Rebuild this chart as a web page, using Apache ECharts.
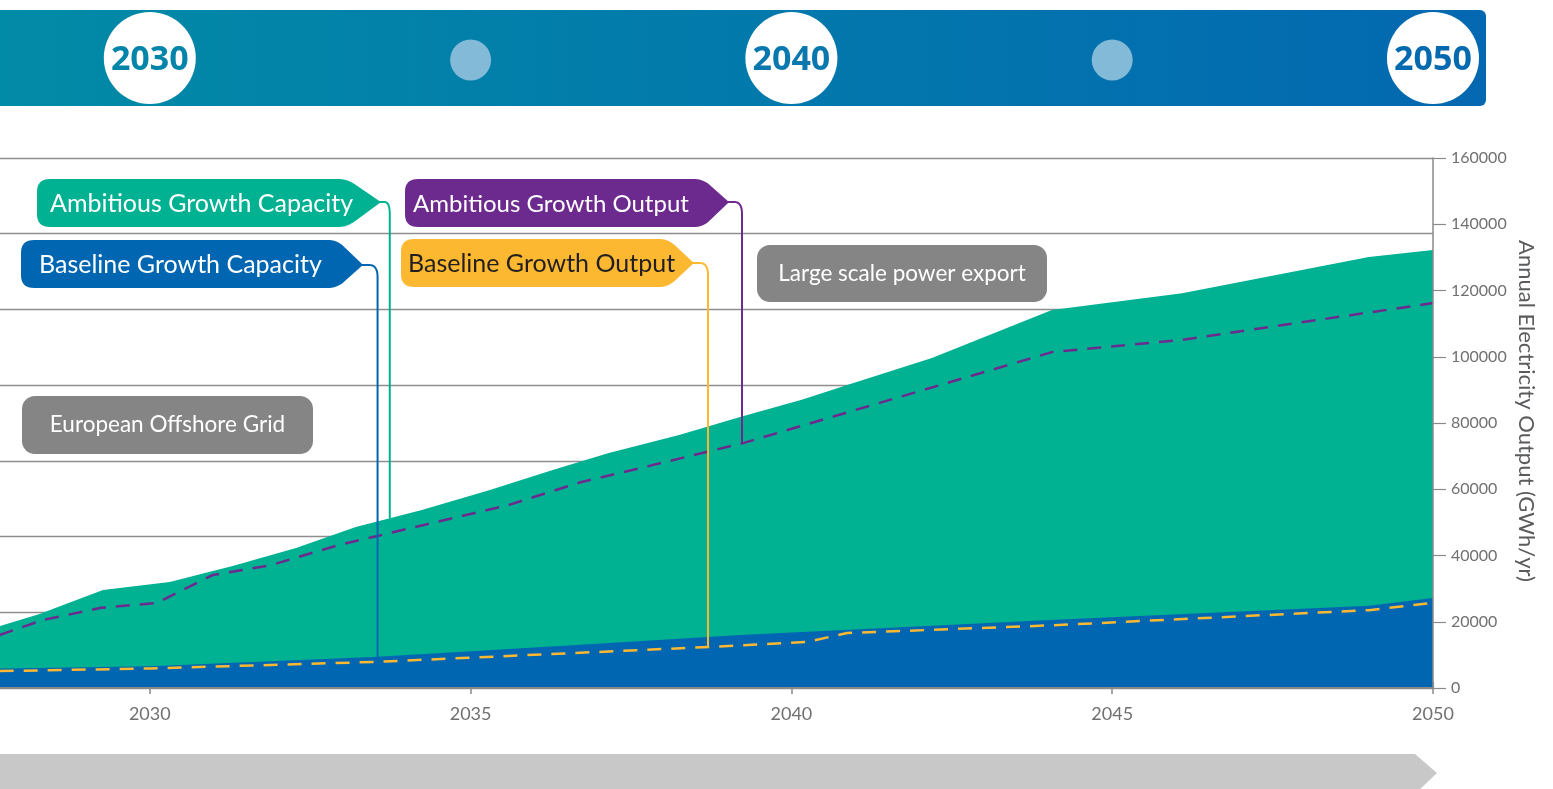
<!DOCTYPE html>
<html>
<head>
<meta charset="utf-8">
<script src="https://cdn.jsdelivr.net/npm/echarts/dist/echarts.min.js"></script>
<style>html,body{margin:0;padding:0;background:#fff;overflow:hidden}#c{width:1553px;height:789px}</style>
</head>
<body>
<div id="c"></div>
<script>
// ---- data ----
const xTickYears = [2025, 2030, 2035, 2040, 2045, 2050];
const outputTicks = [0, 20000, 40000, 60000, 80000, 100000, 120000, 140000, 160000];

const ambitiousCapacityYears  = [2027.66, 2028.27, 2029.27, 2030.31, 2031.29, 2032.28, 2033.21, 2034.24, 2035.30, 2036.28, 2037.14, 2038.25, 2039.20, 2040.16, 2040.87, 2042.19, 2044.06, 2046.09, 2049.00, 2050.00];
const ambitiousCapacityValues = [18700, 22300, 29600, 32000, 36800, 42300, 48600, 53700, 59800, 65800, 70900, 76400, 81800, 87000, 91500, 99600, 114100, 119200, 130100, 132200];

const baselineCapacityYears  = [2027.66, 2030.00, 2033.55, 2036.39, 2039.20, 2044.03, 2049.00, 2050.00];
const baselineCapacityValues = [5900, 6600, 9400, 12700, 16000, 20500, 24800, 27200];

const ambitiousOutputYears  = [2027.66, 2028.33, 2029.24, 2030.11, 2030.98, 2031.89, 2032.95, 2033.55, 2034.46, 2035.60, 2036.73, 2037.71, 2039.26, 2044.06, 2046.09, 2050.00];
const ambitiousOutputValues = [16000, 20500, 24200, 25700, 34100, 37100, 43200, 45900, 50100, 55300, 62200, 66700, 74000, 101400, 105100, 116200];

const baselineOutputYears  = [2027.66, 2030.00, 2033.55, 2038.73, 2040.24, 2040.87, 2044.03, 2049.00, 2050.00];
const baselineOutputValues = [5100, 5900, 7900, 12400, 13900, 16600, 18900, 23500, 25700];

const bannerYears = [2030, 2040, 2050];
const bannerMinorYears = [2035, 2045];

const calloutLabels = ['Ambitious Growth Capacity', 'Baseline Growth Capacity', 'Ambitious Growth Output', 'Baseline Growth Output'];
const calloutYears = [2033.74, 2033.55, 2039.23, 2038.70];
const noteLabels = ['Large scale power export', 'European Offshore Grid'];
const yAxisTitle = 'Annual Electricity Output (GWh/yr)';

// ---- styles ----
const GREEN = '#00B192', BLUE = '#0066B2', PURPLE = '#6D2A8E', YELLOW = '#FBB830';
const AXIS = '#8a8a8a', LABEL = '#707073';
const FONT = 'Lato, "Open Sans", sans-serif';

function pairs(xs, ys) { return xs.map((x, i) => [x, ys[i]]); }

const chart = echarts.init(document.getElementById('c'), null, {renderer: 'canvas'});

const option = {
  animation: false,
  backgroundColor: '#ffffff',
  grid: {left: -171, right: 120, top: 158, bottom: 101, containLabel: false, outerBoundsMode: 'none'},
  xAxis: [
    {type: 'value', position: 'bottom', min: xTickYears[0], max: xTickYears[xTickYears.length - 1], interval: 5, z: 6,
     axisLine: {show: true, lineStyle: {color: AXIS, width: 2}},
     axisTick: {show: true, length: 6, lineStyle: {color: AXIS, width: 1.5}},
     axisLabel: {color: LABEL, fontSize: 18, fontFamily: FONT, margin: 17, formatter: v => String(v)},
     splitLine: {show: false}},
    {type: 'value', position: 'top', min: xTickYears[0], max: xTickYears[xTickYears.length - 1], interval: 5,
     axisLine: {show: false},
     axisTick: {show: true, length: 6, lineStyle: {color: AXIS, width: 1.2}},
     axisLabel: {show: false}, splitLine: {show: false}}
  ],
  yAxis: [
    {type: 'value', position: 'right', min: outputTicks[0], max: outputTicks[outputTicks.length - 1], interval: 20000, z: 6,
     axisLine: {show: true, lineStyle: {color: AXIS, width: 1.5}},
     axisTick: {show: true, length: 13, lineStyle: {color: AXIS, width: 1.2}},
     axisLabel: {color: LABEL, fontSize: 16, fontFamily: FONT, margin: 18, formatter: v => String(v)},
     splitLine: {show: false}},
    {type: 'value', position: 'left', min: 0, max: 70, interval: 10, z: 0,
     axisLine: {show: false}, axisTick: {show: false}, axisLabel: {show: false},
     splitLine: {show: true, lineStyle: {color: '#8e8e8e', width: 1.3}}}
  ],
  series: [
    {name: calloutLabels[0], type: 'line', xAxisIndex: 0, yAxisIndex: 0, z: 2, showSymbol: false,
     data: pairs(ambitiousCapacityYears, ambitiousCapacityValues),
     lineStyle: {width: 0, color: GREEN}, areaStyle: {color: GREEN, opacity: 1}},
    {name: calloutLabels[1], type: 'line', xAxisIndex: 0, yAxisIndex: 0, z: 3, showSymbol: false,
     data: pairs(baselineCapacityYears, baselineCapacityValues),
     lineStyle: {width: 0, color: BLUE}, areaStyle: {color: BLUE, opacity: 1}},
    {name: calloutLabels[2], type: 'line', xAxisIndex: 0, yAxisIndex: 0, z: 4, showSymbol: false,
     data: pairs(ambitiousOutputYears, ambitiousOutputValues),
     lineStyle: {width: 2.5, color: PURPLE, type: [14, 10]}},
    {name: calloutLabels[3], type: 'line', xAxisIndex: 0, yAxisIndex: 0, z: 4, showSymbol: false,
     data: pairs(baselineOutputYears, baselineOutputValues),
     lineStyle: {width: 2.5, color: YELLOW, type: [14, 10]}}
  ]
};
chart.setOption(option);

// ---- decorations ----
function toPx(year, val) { return chart.convertToPixel({seriesIndex: 0}, [year, val]); }
function interp(xs, ys, x) {
  for (let i = 0; i < xs.length - 1; i++) {
    if (x >= xs[i] && x <= xs[i + 1]) { const t = (x - xs[i]) / (xs[i + 1] - xs[i]); return ys[i] + t * (ys[i + 1] - ys[i]); }
  }
  return ys[ys.length - 1];
}
function roundPts(pts, radii, closed) {
  const out = [], n = pts.length;
  for (let i = 0; i < n; i++) {
    const p = pts[i], r = radii[i];
    const hasPrev = closed || i > 0, hasNext = closed || i < n - 1;
    if (!r || !hasPrev || !hasNext) { out.push(p); continue; }
    const a = pts[(i - 1 + n) % n], b = pts[(i + 1) % n];
    const d1 = Math.hypot(a[0] - p[0], a[1] - p[1]), d2 = Math.hypot(b[0] - p[0], b[1] - p[1]);
    const r1 = Math.min(r, d1 / 2), r2 = Math.min(r, d2 / 2);
    const s = [p[0] + (a[0] - p[0]) * r1 / d1, p[1] + (a[1] - p[1]) * r1 / d1];
    const e = [p[0] + (b[0] - p[0]) * r2 / d2, p[1] + (b[1] - p[1]) * r2 / d2];
    for (let k = 0; k <= 10; k++) {
      const t = k / 10, u = 1 - t;
      out.push([u * u * s[0] + 2 * u * t * p[0] + t * t * e[0], u * u * s[1] + 2 * u * t * p[1] + t * t * e[1]]);
    }
  }
  return out;
}

const graphics = [];
// top banner
graphics.push({type: 'rect', z: 1, shape: {x: -10, y: 10, width: 1496, height: 96, r: [0, 6, 6, 0]},
  style: {fill: new echarts.graphic.LinearGradient(0, 0, 1, 0, [{offset: 0, color: '#028BA6'}, {offset: 1, color: '#0368B1'}])}});
const bannerTextColors = ['#0384A9', '#0878AE', '#046AB0'];
bannerYears.forEach((yr, i) => {
  const x = toPx(yr, 0)[0];
  graphics.push({type: 'circle', z: 2, shape: {cx: x, cy: 58, r: 46}, style: {fill: '#ffffff'}});
  graphics.push({type: 'text', z: 3, x: x, y: 60, style: {text: String(yr), fill: bannerTextColors[i], fontSize: 34, fontWeight: 'bold', fontFamily: '"Open Sans", Lato, sans-serif', align: 'center', verticalAlign: 'middle'}});
});
bannerMinorYears.forEach(yr => {
  const x = toPx(yr, 0)[0];
  graphics.push({type: 'circle', z: 2, shape: {cx: x, cy: 60, r: 20.5}, style: {fill: '#82BAD8'}});
});
// bottom arrow bar
graphics.push({type: 'polygon', z: 1, shape: {points: [[-5, 754], [1415, 754], [1437, 773], [1415, 794], [-5, 794]]}, style: {fill: '#C8C8C8'}});

// right axis title
graphics.push({type: 'text', z: 5, x: 1526, y: 411, rotation: -Math.PI / 2,
  style: {text: yAxisTitle, fill: '#5a5b5d', fontSize: 22, fontFamily: FONT, align: 'center', verticalAlign: 'middle'}});

// callouts
const callouts = [
  {box: [37, 179, 347, 227], tip: [381, 202], color: GREEN, text: '#ffffff', textX: 50, size: 25, xs: ambitiousCapacityYears, ys: ambitiousCapacityValues},
  {box: [21, 240, 337, 288], tip: [363, 265], color: BLUE, text: '#ffffff', textX: 39, size: 25, xs: baselineCapacityYears, ys: baselineCapacityValues},
  {box: [405, 179, 703, 227], tip: [729, 202], color: PURPLE, text: '#ffffff', textX: 413, size: 24, xs: ambitiousOutputYears, ys: ambitiousOutputValues},
  {box: [401, 239, 668, 287], tip: [694, 263], color: YELLOW, text: '#231F20', textX: 408, size: 25, xs: baselineOutputYears, ys: baselineOutputValues}
];
callouts.forEach((c, i) => {
  const [x0, y0, x1, y1] = c.box, [tx, ty] = c.tip;
  const yr = calloutYears[i];
  const end = toPx(yr, interp(c.xs, c.ys, yr));
  const lx = end[0];
  graphics.push({type: 'polyline', z: 20, shape: {points: roundPts([[tx - 2, ty], [lx, ty], [lx, end[1]]], [0, 12, 0], false)},
    style: {stroke: c.color, lineWidth: 2, fill: null}});
  graphics.push({type: 'polygon', z: 21, shape: {points: roundPts([[x0, y0], [x1, y0], [tx, ty], [x1, y1], [x0, y1]], [13, 9, 2, 9, 13], true)},
    style: {fill: c.color}});
  graphics.push({type: 'text', z: 22, x: c.textX, y: (y0 + y1) / 2 + 1, style: {text: calloutLabels[i], fill: c.text, fontSize: c.size, fontFamily: FONT, align: 'left', verticalAlign: 'middle'}});
});
// grey notes
const notes = [[757, 245, 1047, 302], [22, 396, 313, 454]];
notes.forEach((b, i) => {
  graphics.push({type: 'rect', z: 21, shape: {x: b[0], y: b[1], width: b[2] - b[0], height: b[3] - b[1], r: 13}, style: {fill: '#858585'}});
  graphics.push({type: 'text', z: 22, x: (b[0] + b[2]) / 2, y: (b[1] + b[3]) / 2, style: {text: noteLabels[i], fill: '#ffffff', fontSize: 22.5, fontFamily: FONT, align: 'center', verticalAlign: 'middle'}});
});

chart.setOption({graphic: graphics});
</script>
</body>
</html>
